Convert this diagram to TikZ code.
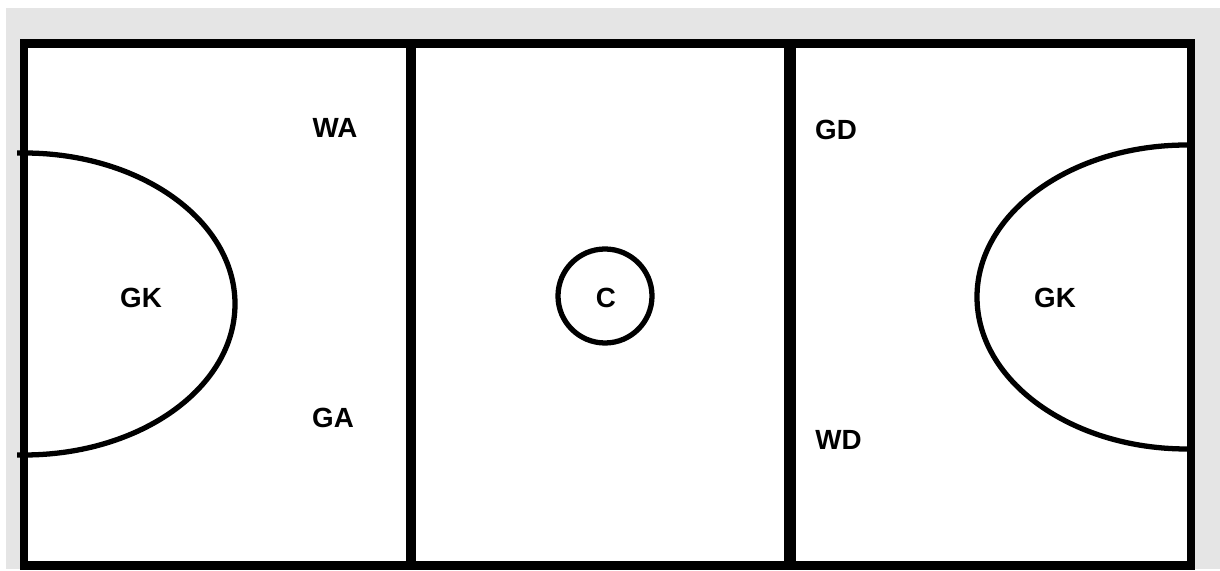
\documentclass[tikz,border=0pt]{standalone}
\usepackage{fontspec}
\setmainfont{Liberation Sans}
\usetikzlibrary{calc,positioning}

\begin{document}
\begin{tikzpicture}[x=0.02cm,y=0.02cm,
    court/.style={line width=4.8pt},
    courtline/.style={line width=3pt},
    lbl/.style={font=\fontsize{15.8}{18}\selectfont\bfseries, inner sep=0pt}]
\useasboundingbox (0,0) rectangle (1220,571);
\fill [white] (0,0) rectangle (1220,571);
\fill [black!10] (6,2) rectangle (1220,563);
\fill [white] (24,5.5) rectangle (1191,527.5);
% circles
\draw [courtline] (17,418) -- (24,418) arc [start angle=90, end angle=-90, x radius=211, y radius=151] -- (17,116);
\draw [courtline] (1187,426) arc [start angle=90, end angle=270, x radius=210, y radius=152];
\draw [courtline] (605,275) circle (47);
% lines
\draw [court] (24,5.5) rectangle (1191,527.5);
\draw [line width=5.8pt] (411,5.5) -- (411,527.5);
\draw [line width=6.6pt] (790,5.5) -- (790,527.5);
% players
\node [lbl] (wa) at (335,443.5) {WA};
\node [lbl] (ga) at (333,153) {GA};
\node [lbl] (gkl) at (141,273) {GK};
\node [lbl] (c) at (606,273) {C};
\node [lbl] (gd) at (836,441) {GD};
\node [lbl] (wd) at (838.5,131.5) {WD};
\node [lbl] (gkr) at (1055,273) {GK};
\end{tikzpicture}
\end{document}
